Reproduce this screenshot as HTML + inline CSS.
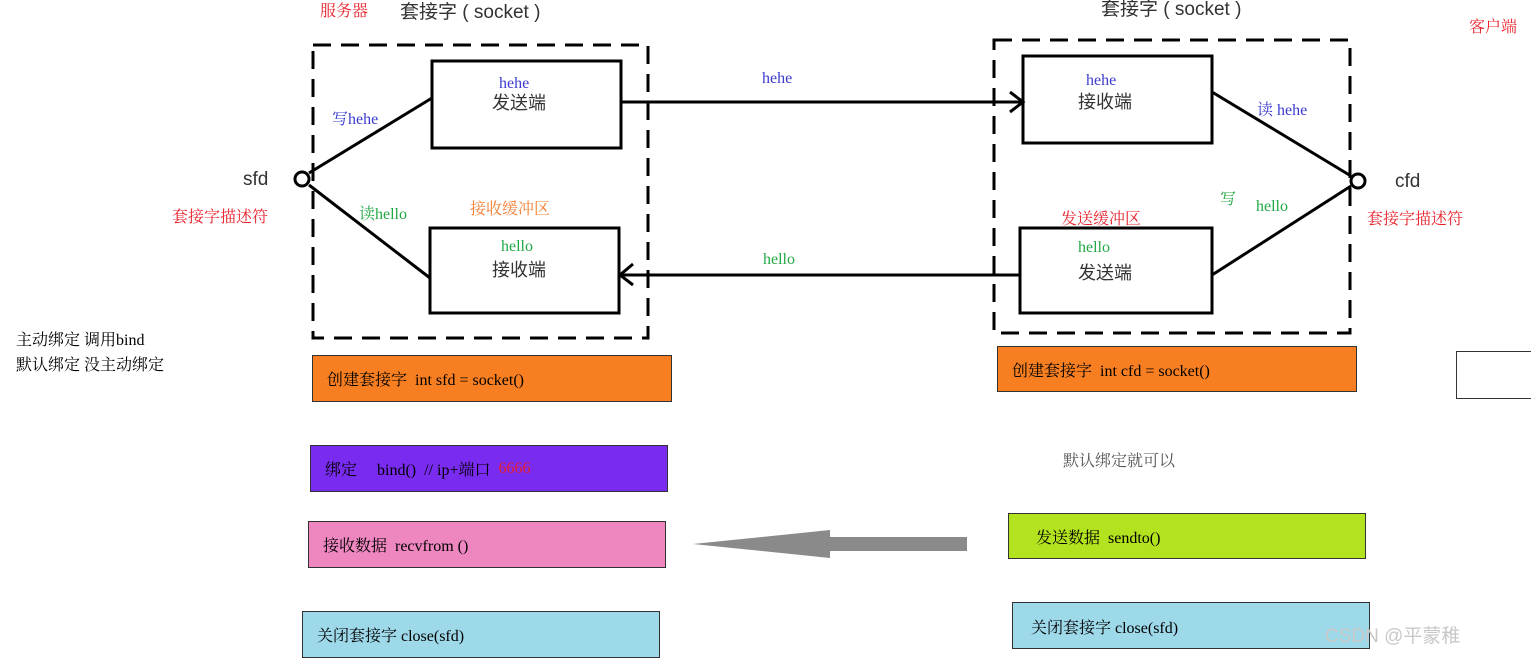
<!DOCTYPE html>
<html><head><meta charset="utf-8"><style>
body{margin:0;background:#fff;width:1531px;height:665px;overflow:hidden;position:relative;font-family:"Liberation Serif","Noto Serif CJK SC","Noto Sans CJK SC",serif;}
.t{position:absolute;white-space:nowrap;font-size:16px;line-height:1;}
.b{position:absolute;border:1px solid #333;box-sizing:border-box;font-size:16px;padding-left:14px;display:flex;align-items:center;white-space:pre;}
.s{font-family:"Liberation Sans","Noto Sans CJK SC",sans-serif;}
</style></head><body>
<svg width="1531" height="665" style="position:absolute;left:0;top:0">
<g fill="none" stroke="#000" stroke-width="3">
<rect x="313" y="45" width="335" height="293" stroke-dasharray="18,10"/>
<rect x="994" y="40" width="356" height="293" stroke-dasharray="18,10"/>
<rect x="432" y="61" width="189" height="87"/>
<rect x="430" y="228" width="189" height="85"/>
<rect x="1023" y="56" width="189" height="87"/>
<rect x="1020" y="228" width="192" height="85"/>
<line x1="621" y1="102" x2="1023" y2="102"/>
<polyline points="1010,92 1023,102 1010,112"/>
<line x1="1020" y1="275" x2="619" y2="275"/>
<polyline points="633,264 620,275 633,285"/>
<circle cx="302" cy="179" r="7"/>
<line x1="309" y1="173" x2="432" y2="98"/>
<line x1="309" y1="185" x2="430" y2="278"/>
<circle cx="1358" cy="181" r="7"/>
<line x1="1212" y1="92" x2="1351" y2="176"/>
<line x1="1212" y1="275" x2="1351" y2="186"/>
</g>
<polygon points="693,544 830,530 830,537 967,537 967,551 830,551 830,558" fill="#8a8a8a"/>
</svg>
<div class="t" style="left:320px;top:4px;color:#e8202a">服务器</div>
<div class="t s" style="left:400px;top:3px;font-size:19px;color:#333">套接字 ( socket )</div>
<div class="t s" style="left:1101px;top:0px;font-size:19px;color:#333">套接字 ( socket )</div>
<div class="t" style="left:1469px;top:20px;color:#e8202a">客户端</div>
<div class="t" style="left:499px;top:76px;color:#3b3bd0">hehe</div>
<div class="t s" style="left:492px;top:94px;font-size:18px;color:#333">发送端</div>
<div class="t" style="left:1086px;top:73px;color:#3b3bd0">hehe</div>
<div class="t s" style="left:1078px;top:93px;font-size:18px;color:#333">接收端</div>
<div class="t" style="left:762px;top:71px;color:#3b3bd0">hehe</div>
<div class="t" style="left:332px;top:112px;color:#3b3bd0">写hehe</div>
<div class="t" style="left:1257px;top:103px;color:#3b3bd0">读 hehe</div>
<div class="t s" style="left:243px;top:170px;font-size:19px;color:#333">sfd</div>
<div class="t s" style="left:1395px;top:172px;font-size:19px;color:#333">cfd</div>
<div class="t" style="left:172px;top:210px;color:#e8202a">套接字描述符</div>
<div class="t" style="left:1367px;top:212px;color:#e8202a">套接字描述符</div>
<div class="t" style="left:359px;top:207px;color:#22a845">读hello</div>
<div class="t" style="left:470px;top:202px;color:#f47d30">接收缓冲区</div>
<div class="t" style="left:1061px;top:212px;color:#e8202a">发送缓冲区</div>
<div class="t" style="left:1220px;top:192px;color:#22a845">写</div>
<div class="t" style="left:1256px;top:199px;color:#22a845">hello</div>
<div class="t" style="left:501px;top:239px;color:#22a845">hello</div>
<div class="t s" style="left:492px;top:261px;font-size:18px;color:#333">接收端</div>
<div class="t" style="left:1078px;top:240px;color:#22a845">hello</div>
<div class="t s" style="left:1078px;top:264px;font-size:18px;color:#333">发送端</div>
<div class="t" style="left:763px;top:252px;color:#22a845">hello</div>
<div class="t" style="left:16px;top:333px;color:#000">主动绑定 调用bind</div>
<div class="t" style="left:16px;top:358px;color:#000">默认绑定 没主动绑定</div>
<div class="t" style="left:1063px;top:454px;color:#555">默认绑定就可以</div>
<div class="b" style="left:312px;top:355px;width:360px;height:47px;background:#f77f21">创建套接字  int sfd = socket()</div>
<div class="b" style="left:310px;top:445px;width:358px;height:47px;background:#7a2bf0">绑定     bind()  // ip+端口  <span style="color:#e8202a">6666</span></div>
<div class="b" style="left:308px;top:521px;width:358px;height:47px;background:#ee86c0">接收数据  recvfrom ()</div>
<div class="b" style="left:302px;top:611px;width:358px;height:47px;background:#9ed9ea">关闭套接字 close(sfd)</div>
<div class="b" style="left:997px;top:346px;width:360px;height:46px;background:#f77f21">创建套接字  int cfd = socket()</div>
<div class="b" style="left:1008px;top:513px;width:358px;height:46px;background:#b3e21e;padding-left:27px">发送数据  sendto()</div>
<div class="b" style="left:1012px;top:602px;width:358px;height:47px;background:#9ed9ea;padding-left:18px;align-items:flex-start;padding-top:12px">关闭套接字 close(sfd)</div>
<div class="b" style="left:1456px;top:351px;width:80px;height:48px;background:#fff"></div>
<div class="t s" style="left:1325px;top:627px;font-size:19px;color:#c8c8c8">CSDN @平蒙稚</div>
</body></html>
